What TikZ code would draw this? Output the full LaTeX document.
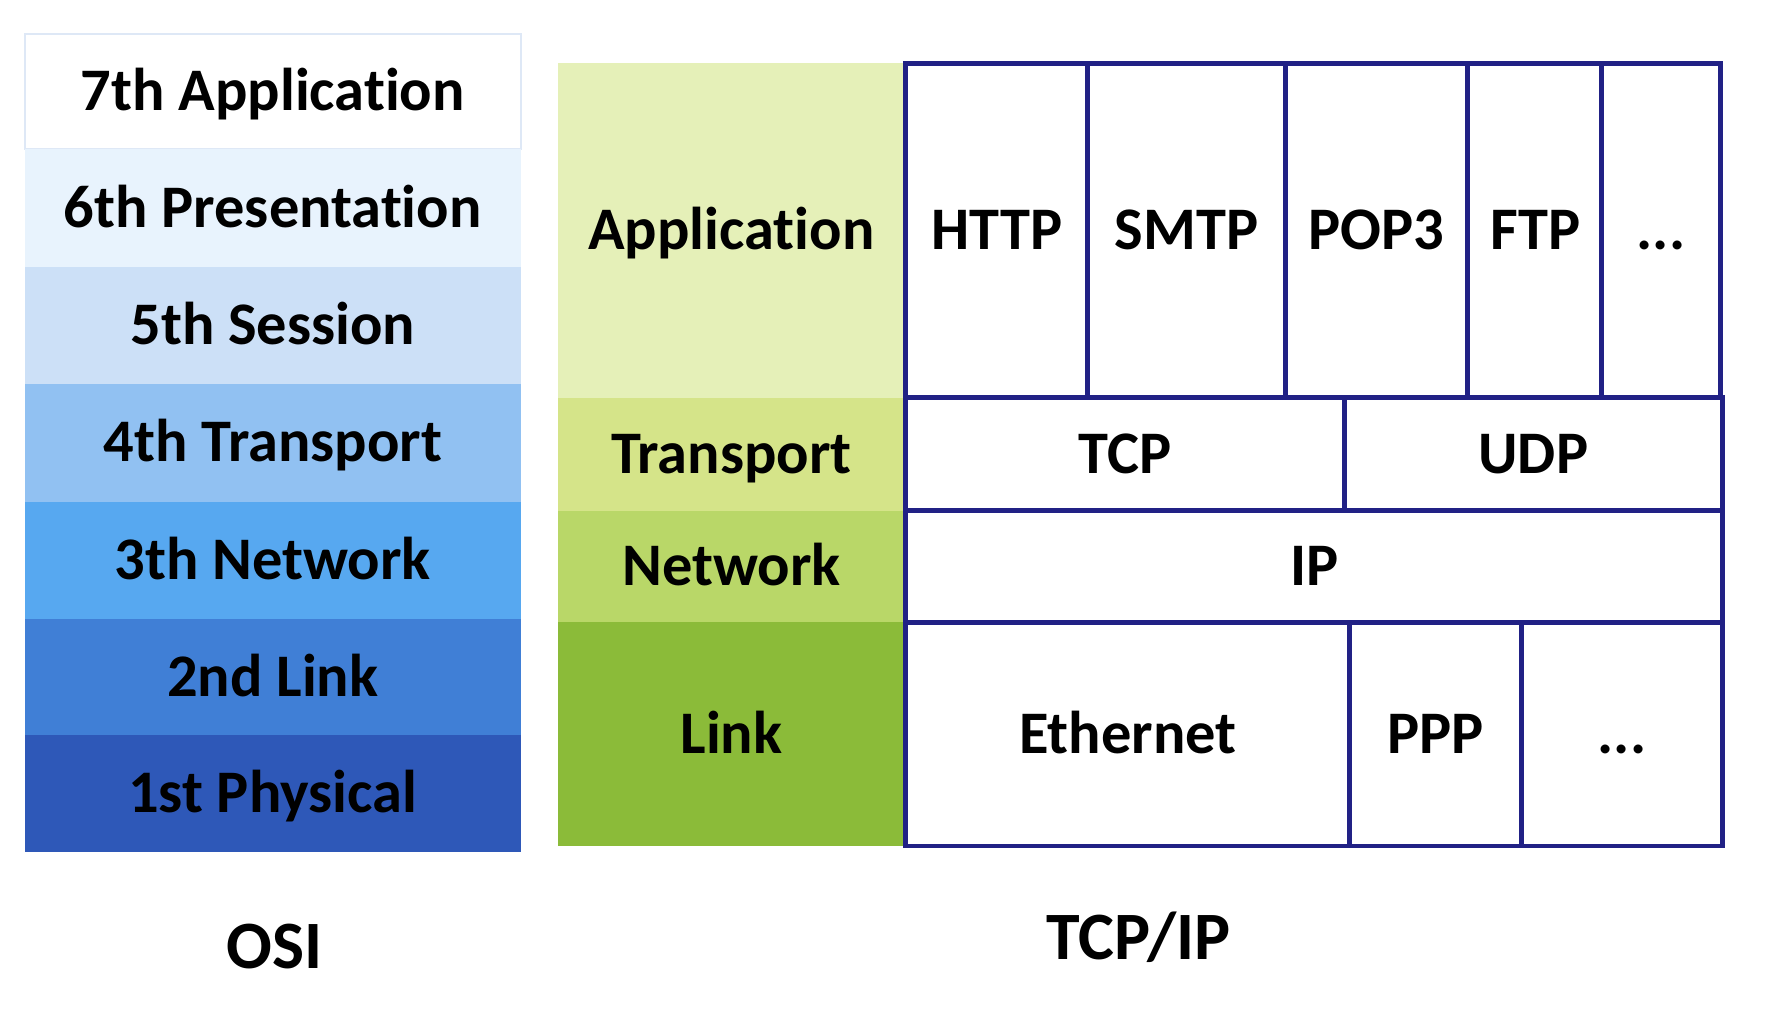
\documentclass[tikz,border=0pt]{standalone}
\usepackage{fontspec}
\setmainfont[Ligatures={NoCommon}]{Carlito}
\newcommand{\tI}{t\kern0pt i}
\definecolor{navy}{RGB}{33,33,133}
\definecolor{osiA}{RGB}{255,255,255}
\definecolor{osiAb}{RGB}{222,232,246}
\definecolor{osiB}{RGB}{232,243,253}
\definecolor{osiC}{RGB}{204,224,247}
\definecolor{osiD}{RGB}{145,193,242}
\definecolor{osiE}{RGB}{87,168,240}
\definecolor{osiF}{RGB}{64,127,214}
\definecolor{osiG}{RGB}{46,88,184}
\definecolor{grA}{RGB}{229,240,184}
\definecolor{grB}{RGB}{213,228,137}
\definecolor{grC}{RGB}{185,215,104}
\definecolor{grD}{RGB}{139,187,57}
\begin{document}
\begin{tikzpicture}[x=1pt,y=-1pt,
  txt/.style={font=\fontsize{53.5}{60}\selectfont\bfseries, text height=34pt, text depth=0pt},
  osicell/.style={rectangle, inner sep=0pt, txt, minimum width=439pt},
  grcell/.style={rectangle, inner sep=0pt, txt, minimum width=307pt},
  protocell/.style={rectangle, inner sep=0pt, txt, draw=navy, line width=4.3pt, fill=white},
  caption/.style={font=\fontsize{60}{66}\selectfont\bfseries, text height=38.6pt, text depth=0pt, inner sep=0pt}]
\useasboundingbox (0,0) rectangle (1567,894.2);
% OSI column
\node[osicell, fill=osiA, draw=osiAb, line width=1.5pt, minimum height=102pt] (o7) at (241.5,81) {7th Applica\tI on};
\node[osicell, fill=osiB, minimum height=104pt] (o6) at (241.5,184) {6th Presenta\tI on};
\node[osicell, fill=osiC, minimum height=104pt] (o5) at (241.5,288) {5th Session};
\node[osicell, fill=osiD, minimum height=104pt] (o4) at (241.5,392) {4th Transport};
\node[osicell, fill=osiE, minimum height=104pt] (o3) at (241.5,496) {3th Network};
\node[osicell, fill=osiF, minimum height=103pt] (o2) at (241.5,599.5) {2nd Link};
\node[osicell, fill=osiG, minimum height=103pt] (o1) at (241.5,702.5) {1st Physical};
% TCP/IP layer names
\node[grcell, fill=grA, minimum height=296pt] (gapp) at (647.5,204) {Applica\tI on};
\node[grcell, fill=grB, minimum height=100pt] (gtra) at (647.5,402) {Transport};
\node[grcell, fill=grC, minimum height=99pt] (gnet) at (647.5,501.5) {Network};
\node[grcell, fill=grD, minimum height=198pt] (glnk) at (647.5,650) {Link};
% Application protocols
\node[protocell, minimum width=161pt, minimum height=296pt] (http) at (882.5,204) {HTTP};
\node[protocell, minimum width=175pt, minimum height=296pt] (smtp) at (1050.5,204) {SMTP};
\node[protocell, minimum width=161pt, minimum height=296pt] (pop3) at (1218.5,204) {POP3};
\node[protocell, minimum width=121pt, minimum height=296pt] (ftp) at (1359.5,204) {FTP};
\node[protocell, minimum width=105pt, minimum height=296pt] (appx) at (1470.5,204) {...};
% Transport
\node[protocell, minimum width=388pt, minimum height=100pt] (tcp) at (996,402) {TCP};
\node[protocell, minimum width=335pt, minimum height=100pt] (udp) at (1357.5,402) {UDP};
% Network
\node[protocell, minimum width=723pt, minimum height=99pt] (ip) at (1163.5,501.5) {IP};
% Link
\node[protocell, minimum width=393pt, minimum height=198pt] (eth) at (998.5,650) {Ethernet};
\node[protocell, minimum width=152pt, minimum height=198pt] (ppp) at (1271,650) {PPP};
\node[protocell, minimum width=178pt, minimum height=198pt] (lnkx) at (1436,650) {...};
% Captions
\node[caption] (osi) at (243,838) {OSI};
\node[caption] (tcpip) at (1008,830) {TCP/IP};
\end{tikzpicture}
\end{document}
